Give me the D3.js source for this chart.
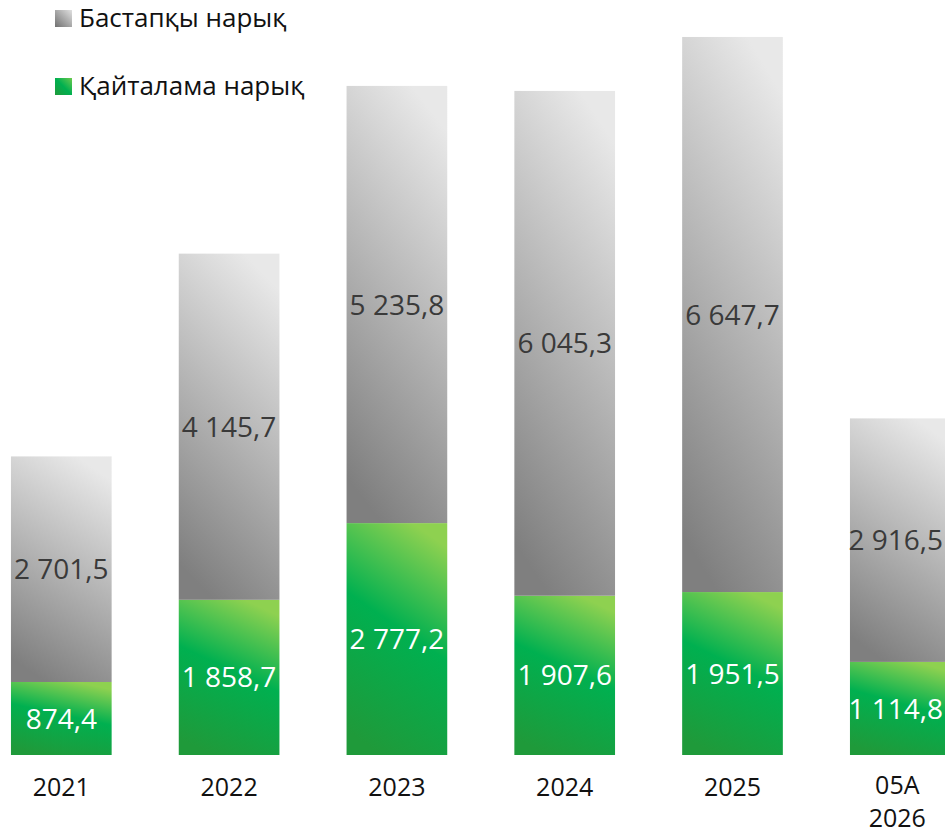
<!DOCTYPE html>
<html>
<head>
<meta charset="utf-8">
<script src="https://cdn.jsdelivr.net/npm/d3@7"></script>
<style>
  body { margin: 0; background: #fff; }
  svg { display: block; font-family: "Open Sans", Lato, sans-serif; }
</style>
</head>
<body>
<svg id="chart" width="945" height="833"></svg>
<script>
// categories and values (млрд тг)
var categories = ["2021", "2022", "2023", "2024", "2025", "05A 2026"];
var secondary = [874.4, 1858.7, 2777.2, 1907.6, 1951.5, 1114.8];   // Қайталама нарық
var primary = [2701.5, 4145.7, 5235.8, 6045.3, 6647.7, 2916.5];    // Бастапқы нарық
var seriesNames = ["Бастапқы нарық", "Қайталама нарық"];

var svg = d3.select("#chart");
var width = +svg.attr("width"), height = +svg.attr("height");
var baseline = 755;

var fmt = function(v) {
    // 2 701,5 style
    var s = v.toFixed(1).split(".");
    return s[0].replace(/\B(?=(\d{3})+(?!\d))/g, " ") + "," + s[1];
};

// gradients
var defs = svg.append("defs");
var gGray = defs.append("linearGradient").attr("id", "gradGray")
    .attr("x1", 0.65).attr("y1", 0).attr("x2", 0.35).attr("y2", 1);
gGray.append("stop").attr("offset", "0%").attr("stop-color", "#e8e8e8");
gGray.append("stop").attr("offset", "100%").attr("stop-color", "#7f7f7f");

var gGreen = defs.append("linearGradient").attr("id", "gradGreen")
    .attr("x1", 0.65).attr("y1", 0).attr("x2", 0.35).attr("y2", 1);
gGreen.append("stop").attr("offset", "0%").attr("stop-color", "#8ed150");
gGreen.append("stop").attr("offset", "45%").attr("stop-color", "#00b050");
gGreen.append("stop").attr("offset", "100%").attr("stop-color", "#1f9a3a");

var gLegGray = defs.append("linearGradient").attr("id", "legGray")
    .attr("x1", 1).attr("y1", 0).attr("x2", 0).attr("y2", 1);
gLegGray.append("stop").attr("offset", "0%").attr("stop-color", "#e0e0e0");
gLegGray.append("stop").attr("offset", "100%").attr("stop-color", "#707070");
var gLegGreen = defs.append("linearGradient").attr("id", "legGreen")
    .attr("x1", 1).attr("y1", 0).attr("x2", 0).attr("y2", 1);
gLegGreen.append("stop").attr("offset", "0%").attr("stop-color", "#6cc94e");
gLegGreen.append("stop").attr("offset", "50%").attr("stop-color", "#00b050");
gLegGreen.append("stop").attr("offset", "100%").attr("stop-color", "#1f9a3a");

// scales
var x = d3.scaleBand()
    .domain(categories)
    .range([-22.6, 984.2])
    .paddingInner(0.4)
    .paddingOuter(0.2);

var y = d3.scaleLinear()
    .domain([0, 9042])
    .range([baseline, 0]);

var data = categories.map(function(c, i) {
    return {cat: c, secondary: secondary[i], primary: primary[i]};
});

var stack = d3.stack().keys(["secondary", "primary"]);
var layers = stack(data);
var fills = {secondary: "url(#gradGreen)", primary: "url(#gradGray)"};
var textColors = {secondary: "#ffffff", primary: "#3a3a3a"};

var layer = svg.selectAll("g.layer")
    .data(layers)
    .enter().append("g")
    .attr("class", "layer");

layer.selectAll("rect")
    .data(function(d) { return d.map(function(p) { p.key = d.key; return p; }); })
    .enter().append("rect")
    .attr("x", function(d) { return x(d.data.cat); })
    .attr("y", function(d) { return y(d[1]); })
    .attr("width", x.bandwidth())
    .attr("height", function(d) { return y(d[0]) - y(d[1]); })
    .attr("fill", function(d) { return fills[d.key]; });

layer.selectAll("text")
    .data(function(d) { return d; })
    .enter().append("text")
    .attr("x", function(d) { return x(d.data.cat) + x.bandwidth() / 2; })
    .attr("y", function(d) { return (y(d[0]) + y(d[1])) / 2; })
    .attr("dy", "0.36em")
    .attr("text-anchor", "middle")
    .style("font-size", "28px")
    .style("fill", function(d) { return textColors[d.key]; })
    .text(function(d) { return fmt(d[1] - d[0]); })
    .each(function() {
        // keep the last bar's labels inside the picture
        var t = d3.select(this), w = this.getComputedTextLength(), cx = +t.attr("x");
        if (cx + w / 2 > width - 2) t.attr("x", width - 2 - w / 2);
    });

// x axis labels (no axis line); two-line label split on the space
var xAxis = svg.append("g")
    .attr("transform", "translate(0," + baseline + ")")
    .call(d3.axisBottom(x).tickSize(0).tickPadding(0).tickFormat(""));
xAxis.select(".domain").remove();
xAxis.selectAll(".tick").each(function(d, i) {
    var g = d3.select(this), parts = d.split(" ");
    if (i === categories.length - 1) g.attr("transform", "translate(" + (x(d) + x.bandwidth() / 2 - 3) + ",0)");
    g.select("text").remove();
    parts.forEach(function(p, j) {
        g.append("text")
            .attr("text-anchor", "middle")
            .attr("y", parts.length > 1 ? 39 + j * 33 : 41)
            .style("font-family", "'Open Sans', Lato, sans-serif")
            .style("font-size", "25px")
            .style("fill", "#111")
            .text(p);
    });
});

// legend
var legend = svg.selectAll(".legend")
    .data(seriesNames)
    .enter().append("g")
    .attr("class", "legend")
    .attr("transform", function(d, i) { return "translate(55," + (10 + i * 68) + ")"; });

legend.append("rect")
    .attr("width", 17)
    .attr("height", 17)
    .attr("fill", function(d, i) { return i === 0 ? "url(#legGray)" : "url(#legGreen)"; });

legend.append("text")
    .attr("x", 24)
    .attr("y", 17)
    .style("font-size", "26px")
    .style("fill", "#111")
    .text(function(d) { return d; });
</script>
</body>
</html>
